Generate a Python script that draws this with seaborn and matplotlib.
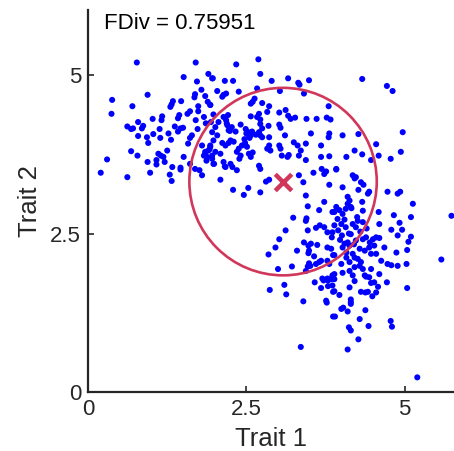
# -*- coding: utf-8 -*-
"""
Scatter of two traits with functional divergence circle
"""

# import libraries
import pandas as pd
import matplotlib
matplotlib.use("Agg")
import matplotlib.pyplot as plt
from matplotlib.patches import Circle
import seaborn as sns

# points as (trait 1, trait 2)
upper_left = [
    (0.77, 5.20), (1.70, 5.20), (1.90, 5.02), (1.96, 4.95), (1.51, 4.97), (1.72, 4.90),
    (1.79, 4.77), (1.69, 4.70), (1.68, 4.65), (1.85, 4.67), (0.38, 4.61), (0.94, 4.69),
    (0.70, 4.51), (0.37, 4.39), (1.34, 4.59), (1.32, 4.54), (1.30, 4.50), (1.47, 4.59),
    (1.74, 4.51), (1.89, 4.58), (1.93, 4.53), (1.61, 4.43), (1.57, 4.39), (1.74, 4.43),
    (1.83, 4.34), (1.70, 4.29), (1.44, 4.37), (1.42, 4.32), (1.17, 4.35), (1.16, 4.29),
    (1.02, 4.31), (0.79, 4.26), (0.62, 4.19), (0.68, 4.15), (0.71, 4.16), (0.87, 4.20),
    (0.85, 4.16), (1.13, 4.15), (1.37, 4.19), (1.46, 4.16), (1.42, 4.11), (1.50, 4.17),
    (1.73, 4.15), (1.86, 4.24), (1.94, 4.26), (0.79, 4.04), (0.93, 4.02), (0.95, 3.93),
    (1.03, 4.07), (1.14, 4.01), (1.27, 4.08), (1.31, 3.98), (1.61, 4.01), (1.58, 3.92),
    (1.64, 4.05), (0.30, 3.67), (0.68, 3.80), (0.78, 3.73), (0.94, 3.63), (1.11, 3.76),
    (1.15, 3.73), (1.19, 3.71), (1.25, 3.81), (1.08, 3.66), (1.08, 3.59), (1.21, 3.63),
    (1.33, 3.55), (1.51, 3.71), (1.46, 3.54), (1.61, 3.60), (1.69, 3.52), (1.80, 3.89),
    (1.85, 3.79), (1.83, 3.73), (1.90, 3.81), (1.88, 3.71), (1.96, 3.68), (1.93, 3.87),
    (1.99, 3.60), (0.20, 3.46), (0.62, 3.39), (0.98, 3.46), (1.29, 3.43), (1.32, 3.33),
    (1.46, 3.51), (1.76, 3.50), (1.80, 3.42),
]
upper_centre = [
    (2.69, 5.25), (2.34, 5.17), (2.72, 5.02), (1.97, 4.95), (2.16, 4.91), (2.29, 4.91),
    (2.90, 4.91), (3.16, 4.95), (3.32, 4.88), (3.34, 4.85), (3.49, 4.92), (2.04, 4.75),
    (2.14, 4.69), (2.12, 4.66), (2.18, 4.71), (2.38, 4.74), (2.67, 4.79), (3.03, 4.75),
    (3.41, 4.71), (1.93, 4.53), (2.63, 4.63), (2.57, 4.55), (2.60, 4.58), (2.75, 4.56),
    (2.86, 4.51), (3.80, 4.51), (1.98, 4.38), (2.14, 4.34), (2.18, 4.29), (2.21, 4.37),
    (2.06, 4.26), (2.57, 4.35), (2.70, 4.39), (2.67, 4.34), (2.72, 4.30), (2.83, 4.42),
    (3.02, 4.41), (3.12, 4.45), (3.16, 4.36), (3.20, 4.31), (3.27, 4.33), (3.45, 4.31),
    (3.61, 4.31), (3.77, 4.33), (2.01, 4.18), (1.96, 4.10), (2.04, 4.05), (2.20, 4.21),
    (2.22, 4.13), (2.27, 4.18), (2.33, 4.11), (2.41, 4.22), (2.49, 4.15), (2.53, 4.10),
    (2.57, 4.05), (2.50, 4.08), (2.59, 4.11), (2.65, 4.06), (2.55, 4.01), (2.72, 4.23),
    (2.75, 4.16), (2.70, 4.10), (2.85, 4.20), (3.02, 4.22), (3.04, 4.17), (3.11, 4.05),
    (2.86, 4.02), (2.72, 4.05), (2.75, 4.02), (3.52, 4.08), (3.81, 4.08), (3.80, 4.02),
    (1.98, 3.97), (1.93, 3.89), (2.12, 3.93), (2.22, 3.93), (2.17, 3.89), (2.25, 3.97),
    (2.43, 3.89), (2.48, 3.93), (2.51, 3.87), (2.38, 3.84), (2.86, 3.89), (2.83, 3.84),
    (3.02, 3.89), (3.25, 3.94), (3.31, 3.89), (3.44, 3.92), (3.68, 3.89), (2.01, 3.79),
    (1.96, 3.73), (2.09, 3.76), (2.35, 3.79), (2.41, 3.73), (2.54, 3.76), (2.57, 3.71),
    (2.88, 3.81), (3.04, 3.84), (3.06, 3.73), (3.17, 3.74), (3.15, 3.71), (3.36, 3.81),
    (3.33, 3.73), (3.44, 3.66), (1.98, 3.60), (2.14, 3.63), (2.16, 3.56), (2.25, 3.60),
    (2.39, 3.68), (2.70, 3.57), (2.72, 3.52), (3.68, 3.71), (3.81, 3.72), (1.85, 3.76),
    (1.92, 3.83), (2.19, 4.24), (2.24, 4.12), (2.30, 3.95), (2.47, 3.99), (2.52, 4.07),
    (2.60, 3.78), (1.87, 3.65),
]
upper_right = [
    (4.33, 4.94), (4.72, 4.83), (4.81, 4.75), (3.83, 4.30), (4.02, 4.05), (4.27, 4.07),
    (4.97, 4.10), (4.55, 3.91), (4.21, 3.81), (4.33, 3.75), (4.59, 3.73), (4.94, 3.79),
    (4.78, 3.68), (4.08, 3.71), (3.92, 3.52), (4.47, 3.66),
]
middle_band = [
    (2.17, 3.55), (2.28, 3.55), (2.35, 3.50), (2.09, 3.35), (2.29, 3.19), (2.53, 3.22),
    (2.46, 3.11), (2.72, 3.15), (2.81, 3.32), (2.86, 3.35), (3.33, 3.42), (3.40, 3.31),
    (3.56, 3.46), (3.69, 3.52), (3.73, 3.44), (3.76, 3.48), (3.81, 3.27), (3.44, 3.10),
    (3.73, 3.00), (3.47, 2.93), (3.65, 2.87), (3.86, 2.84), (3.24, 2.75), (3.45, 2.74),
    (3.44, 2.70), (3.60, 2.59), (3.66, 2.63), (3.73, 2.60), (3.12, 2.55), (3.47, 2.55),
    (3.78, 2.52), (3.85, 2.44), (3.02, 2.41), (3.41, 2.36), (3.48, 2.31), (3.52, 2.34),
    (3.62, 2.32), (2.96, 2.28), (3.49, 2.23), (3.48, 2.19), (3.78, 2.28), (3.84, 2.26),
    (3.30, 2.23), (2.85, 2.17), (3.57, 2.14), (3.87, 2.16), (3.65, 2.05), (3.60, 2.02),
    (3.68, 2.07), (3.49, 2.03), (3.47, 1.98), (3.51, 1.99), (3.78, 2.07), (3.81, 2.02),
    (3.22, 1.98), (3.00, 1.94), (3.44, 1.91), (3.70, 1.79), (3.78, 1.79), (3.86, 1.84),
]
lower_right = [
    (3.92, 3.51), (4.18, 3.42), (4.21, 3.37), (4.23, 3.39), (4.31, 3.31), (4.35, 3.27),
    (4.02, 3.23), (4.27, 3.19), (4.42, 3.13), (4.44, 3.16), (4.73, 3.16), (4.89, 3.13),
    (4.93, 3.16), (4.10, 3.08), (4.13, 3.02), (4.33, 3.00), (5.13, 2.97), (5.74, 2.78),
    (3.92, 2.92), (3.89, 2.84), (3.97, 2.87), (4.02, 2.81), (4.07, 2.89), (4.10, 2.97),
    (4.15, 2.92), (4.34, 2.86), (4.59, 2.84), (4.83, 2.79), (5.10, 2.76), (3.94, 2.73),
    (3.89, 2.63), (4.00, 2.65), (4.07, 2.60), (4.18, 2.65), (4.26, 2.70), (4.23, 2.60),
    (4.34, 2.68), (4.60, 2.65), (4.92, 2.67), (4.79, 2.56), (4.96, 2.56), (4.89, 2.47),
    (5.10, 2.45), (5.06, 2.37), (3.86, 2.52), (4.01, 2.47), (4.05, 2.34), (4.10, 2.36),
    (4.02, 2.28), (4.13, 2.31), (4.23, 2.39), (4.34, 2.41), (4.39, 2.44), (4.50, 2.41),
    (4.55, 2.44), (4.60, 2.43), (4.29, 2.26), (4.37, 2.23), (4.44, 2.28), (4.52, 2.31),
    (4.55, 2.18), (4.47, 2.18), (4.68, 2.28), (4.87, 2.20), (5.04, 2.24), (3.89, 2.16),
    (4.18, 2.18), (4.21, 2.12), (4.63, 2.07), (4.73, 2.02), (4.79, 2.00), (4.89, 1.99),
    (5.03, 2.02), (5.58, 2.09), (4.00, 2.02), (4.13, 2.05), (4.21, 1.97), (4.29, 1.99),
    (4.31, 2.05), (4.34, 1.94), (4.47, 1.94), (4.60, 1.86), (3.89, 1.86), (4.02, 1.88),
    (4.13, 1.91), (4.18, 1.84), (4.37, 1.84), (4.44, 1.81), (3.95, 2.55), (4.05, 2.72),
    (4.12, 2.50), (4.20, 2.33), (4.08, 2.12), (4.15, 2.49), (4.25, 2.76), (4.30, 2.53),
    (4.40, 2.58), (3.98, 2.40), (4.45, 2.36), (4.08, 2.20), (4.16, 2.90), (4.26, 2.10),
]
lower_tail = [
    (2.87, 1.61), (3.10, 1.69), (3.13, 1.54), (3.40, 1.43), (3.58, 1.73), (3.72, 1.76),
    (3.79, 1.76), (3.84, 1.78), (3.68, 1.64), (3.79, 1.67), (3.86, 1.68), (3.76, 1.44),
    (3.77, 1.41), (3.87, 1.58), (3.87, 1.19), (3.36, 0.71), (3.86, 1.81), (3.89, 1.78),
    (4.21, 1.75), (4.39, 1.82), (4.47, 1.72), (4.52, 1.73), (4.58, 1.66), (4.55, 1.57),
    (4.72, 1.73), (4.13, 1.65), (3.89, 1.59), (3.97, 1.53), (4.31, 1.58), (4.38, 1.57),
    (4.42, 1.58), (4.49, 1.51), (5.04, 1.64), (4.15, 1.46), (4.15, 1.42), (4.15, 1.39),
    (4.00, 1.31), (4.03, 1.33), (4.10, 1.27), (4.38, 1.29), (3.90, 1.19), (4.29, 1.15),
    (4.78, 1.12), (4.80, 1.03), (4.43, 1.04), (4.12, 1.02), (4.15, 0.97), (4.27, 0.83),
    (4.10, 0.67), (5.20, 0.23),
]

# centre of gravity and mean distance to it
centroid = (3.08, 3.32)
mean_dist = 1.48
fdiv_label = "FDiv = 0.75951"

points = upper_left + upper_centre + upper_right + middle_band + lower_right + lower_tail
df = pd.DataFrame(points, columns=["Trait 1", "Trait 2"])

# set theme
sns.set_theme(style="ticks")
plt.rcParams["font.family"] = ["Liberation Sans", "DejaVu Sans"]

dark = "#262626"
red = "#d0375a"

# create plot
fig = plt.figure(figsize=(4.54, 4.51), dpi=100)
ax = fig.add_axes([0.194, 0.131, 0.806, 0.847])

sns.scatterplot(
    data=df, x="Trait 1", y="Trait 2", ax=ax,
    color="#0000ff", s=19, linewidth=0, edgecolor="none", zorder=3
    )

ax.add_patch(Circle(centroid, mean_dist, fill=False, edgecolor=red,
                    linewidth=1.9, zorder=4))
ax.scatter([centroid[0]], [centroid[1]], marker="x", s=140, color=red,
           linewidths=3.2, zorder=5)

ax.set_xlim(0, 5.78)
ax.set_ylim(0, 6.03)
ax.set_xticks([0, 2.5, 5])
ax.set_yticks([0, 2.5, 5])
ax.set_xticklabels(["0", "2.5", "5"])
ax.set_yticklabels(["0", "2.5", "5"])
ax.tick_params(direction="in", length=4, width=1.2, labelsize=16,
               colors=dark, pad=5)
ax.set_xlabel("Trait 1", fontsize=18.5, color=dark, labelpad=5)
ax.set_ylabel("Trait 2", fontsize=18.5, color=dark, labelpad=6)
for side in ["left", "bottom"]:
    ax.spines[side].set_linewidth(1.6)
    ax.spines[side].set_color(dark)
sns.despine(ax=ax)

ax.text(0.044, 0.951, fdiv_label, transform=ax.transAxes, ha="left",
        va="baseline", fontsize=16, color="black")

plt.savefig("out.png", dpi=100)
